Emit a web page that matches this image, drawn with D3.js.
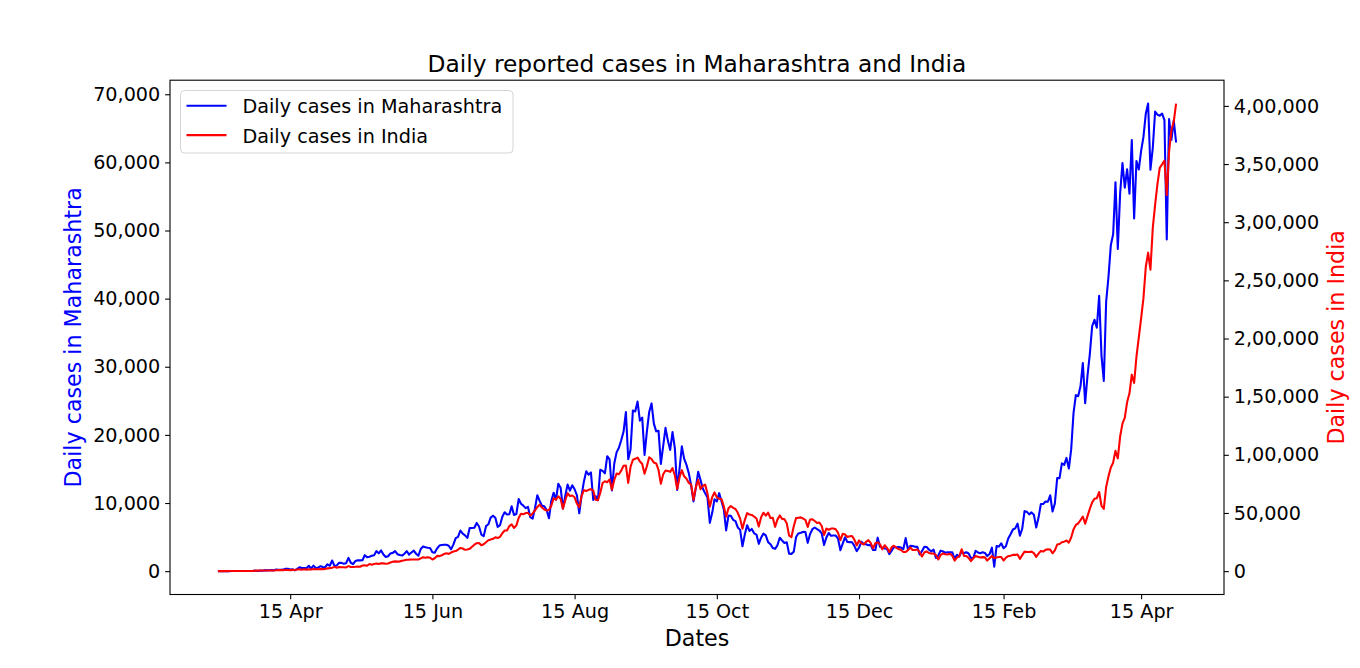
<!DOCTYPE html>
<html>
<head>
<meta charset="utf-8">
<script src="https://cdnjs.cloudflare.com/ajax/libs/d3/7.8.5/d3.min.js"></script>
<style>
    body { margin: 0; background: #fff; }
    svg text { font-family: "DejaVu Sans", sans-serif; fill: #000; }
</style>
</head>
<body>

<svg id="chart"></svg>

<script>

// first day of each block of daily values below
let blockStarts = ["2020-03-15", "2020-04-01", "2020-05-01", "2020-06-01", "2020-07-01",
                   "2020-08-01", "2020-09-01", "2020-10-01", "2020-11-01", "2020-12-01",
                   "2021-01-01", "2021-02-01", "2021-03-01", "2021-04-01"];

let mhCases = [
    [6, 5, 3, 7, 4, 3, 12, 10, 23, 10, 14, 17, 23, 27, 20, 17, 82],
    [33, 81, 67, 145, 113, 120, 150, 117, 229, 210, 187, 221, 352, 350, 232, 286, 118, 328, 552, 466, 472, 431, 778, 394, 811, 440, 522, 729, 597, 583],
    [1008, 790, 1567, 771, 841, 1233, 1216, 1089, 1165, 1943, 1230, 1026, 1495, 1602, 1576, 1606, 2347, 2033, 2127, 2250, 2345, 2940, 2608, 3041, 2436, 2091, 2190, 2598, 2682, 2940, 2487],
    [2361, 2287, 2560, 2933, 2436, 2739, 3007, 2553, 2259, 3254, 3607, 3493, 3427, 3390, 2786, 2701, 3307, 3752, 3827, 3874, 3870, 3721, 3214, 3890, 4841, 5024, 5968, 5493, 5257, 4878],
    [6330, 6328, 6364, 7074, 6555, 5368, 5134, 6603, 6875, 7862, 8139, 7827, 6497, 6741, 7975, 8641, 8308, 8348, 9518, 8240, 8369, 10576, 9895, 9615, 9251, 9431, 7924, 7717, 9211, 11147, 10320],
    [9601, 9509, 8968, 7760, 10309, 11514, 10483, 12822, 12248, 9181, 11088, 12712, 11813, 12608, 12020, 11111, 8493, 11119, 13165, 14647, 14161, 14492, 10441, 11015, 10425, 14888, 14718, 14361, 16867, 16408, 11852],
    [15765, 17433, 18105, 19218, 20489, 23350, 16429, 17851, 23577, 23446, 24886, 22084, 22543, 17066, 20482, 23365, 24619, 21656, 20519, 20598, 15738, 18390, 21029, 19164, 17794, 20419, 18056, 11921, 14976, 18317],
    [16476, 15591, 14348, 12548, 10244, 12258, 14578, 13395, 12134, 11416, 10792, 7089, 8522, 10552, 10226, 11447, 10259, 9060, 5984, 8151, 8142, 7539, 7347, 6417, 6059, 3645, 5363, 6738, 5902, 6190, 5548],
    [5369, 4009, 4909, 5505, 5246, 4258, 3959, 3408, 3277, 3791, 4907, 4496, 4132, 4237, 2544, 2535, 2840, 5011, 5535, 5640, 5760, 5753, 4153, 5439, 6159, 6406, 6185, 5965, 5544, 3837],
    [4930, 5600, 5182, 5229, 5229, 4757, 3075, 4026, 4981, 4268, 4259, 4235, 3717, 2949, 3442, 4304, 3994, 3940, 3811, 3854, 3106, 3106, 4913, 3580, 3431, 3314, 3282, 2498, 3018, 3537, 3509],
    [3524, 3463, 3218, 4850, 3160, 3729, 3693, 3581, 3558, 2438, 2936, 3579, 3556, 3145, 2910, 3145, 1924, 2294, 3015, 2886, 2697, 2779, 2752, 2752, 1842, 2405, 2171, 2889, 2630, 2771, 2585],
    [1948, 1927, 2992, 2736, 2628, 2768, 2673, 2216, 2515, 3451, 652, 3670, 3611, 4092, 3365, 3663, 4787, 5427, 6112, 6281, 6971, 5210, 6218, 8807, 8702, 8333, 8623, 8293],
    [6397, 7863, 9855, 9855, 10216, 10187, 11141, 8744, 9927, 13659, 13659, 15817, 15602, 16620, 15051, 17864, 23179, 25833, 25681, 27126, 30535, 24645, 28699, 31855, 35952, 36902, 35726, 40414, 31643, 27918, 39544],
    [43183, 47827, 49447, 57074, 47288, 55469, 59907, 56286, 58993, 55411, 63294, 51751, 60212, 58952, 61695, 63729, 67123, 68631, 58924, 62097, 67468, 67013, 66836, 67160, 66191, 48700, 66358, 63309, 66159, 62919]
];

let indiaCases = [
    [13, 6, 11, 10, 23, 58, 78, 69, 94, 74, 86, 73, 153, 136, 120, 187, 309],
    [424, 486, 560, 579, 609, 484, 573, 565, 813, 871, 854, 758, 1243, 1031, 886, 1061, 922, 1371, 1580, 1239, 1537, 1292, 1667, 1408, 1835, 1607, 1568, 1902, 1705, 1801],
    [2396, 2564, 2952, 3656, 2971, 3602, 3344, 3339, 3175, 4311, 3592, 3562, 3726, 3991, 3808, 4794, 5050, 4630, 6147, 5553, 6198, 6629, 6154, 6767, 6654, 6387, 6566, 7467, 8105, 8380, 8171],
    [8392, 8909, 9304, 9851, 9887, 9971, 9983, 9987, 9985, 10956, 11929, 11458, 12031, 11502, 10032, 11086, 13109, 12881, 13586, 14721, 15403, 14821, 15968, 16922, 17296, 18552, 19906, 19459, 18339, 18641],
    [19160, 20903, 22721, 24018, 24248, 22252, 23135, 24879, 26506, 27114, 27755, 29108, 28498, 29429, 32607, 34956, 34884, 38697, 40243, 37148, 39170, 45720, 49310, 48916, 49931, 50075, 47703, 49632, 52123, 55079, 57117],
    [54735, 52972, 52050, 52509, 56282, 62538, 61537, 64399, 62064, 53601, 60963, 66999, 64553, 65002, 63490, 57981, 55079, 64531, 69652, 68898, 69878, 70488, 69239, 61408, 60975, 67151, 75760, 77266, 76472, 78761, 69921],
    [78357, 83883, 83341, 86432, 90632, 90802, 75809, 89706, 95735, 96551, 97570, 94372, 92071, 83809, 90123, 97894, 96424, 93337, 92605, 86961, 75083, 83347, 86508, 86052, 85362, 88600, 82170, 70589, 80472, 86821],
    [81484, 79476, 75829, 74442, 61267, 72049, 78524, 70496, 73272, 74383, 66732, 55342, 63509, 67708, 63371, 62212, 61871, 55722, 46791, 54044, 56013, 54350, 53370, 50129, 45149, 36469, 43893, 49881, 48648, 48268, 46963],
    [45231, 38310, 46253, 50210, 47638, 50357, 45674, 45903, 38073, 44281, 47905, 44879, 44684, 41100, 30548, 29164, 38617, 45576, 45882, 46232, 45209, 44059, 37975, 44376, 44489, 43082, 41322, 41810, 38772, 31118],
    [36604, 35551, 36595, 36652, 36011, 32981, 26567, 32080, 31522, 29398, 30006, 30254, 27071, 22065, 26382, 24010, 22890, 25152, 26624, 24337, 19556, 23950, 24712, 23068, 18732, 22273, 20021, 16432, 20550, 21822, 20035],
    [19079, 18177, 16504, 16375, 18088, 20346, 18139, 18222, 18645, 16311, 12584, 15968, 16946, 15590, 15158, 15144, 13788, 10064, 13823, 15223, 14545, 14256, 14849, 13203, 9102, 11666, 12689, 18855, 13083, 13052, 11427],
    [8635, 11039, 12899, 12408, 11713, 12059, 11831, 9110, 11067, 12923, 11195, 11710, 12143, 12194, 9121, 11610, 12881, 13193, 13993, 13993, 14264, 10584, 13742, 16738, 16577, 16488, 16752, 15510],
    [12286, 14989, 17407, 16838, 18327, 18711, 18599, 15388, 17921, 22854, 23285, 24882, 25320, 26291, 24492, 28903, 35871, 39726, 40953, 43846, 46951, 40715, 47262, 53476, 59118, 62258, 62714, 68020, 56211, 53480, 72330],
    [81466, 89129, 93249, 103558, 96982, 115736, 126789, 131968, 145384, 152879, 168912, 161736, 184372, 200739, 217353, 234692, 261500, 273810, 259170, 295041, 314835, 332730, 346786, 349691, 352991, 323144, 360960, 379257, 386452, 401993]
];

let leftTicks = [0, 10000, 20000, 30000, 40000, 50000, 60000, 70000];
let rightTicks = [0, 50000, 100000, 150000, 200000, 250000, 300000, 350000, 400000];
let dateTicks = ["2020-04-15", "2020-06-15", "2020-08-15", "2020-10-15", "2020-12-15", "2021-02-15", "2021-04-15"];

let titleText = "Daily reported cases in Maharashtra and India";
let xLabel = "Dates";
let leftLabel = "Daily cases in Maharashtra";
let rightLabel = "Daily cases in India";
let legendLabels = ["Daily cases in Maharashtra", "Daily cases in India"];


let width = 1360;
let height = 668;
let plotLeft = 170, plotRight = 1224, plotTop = 80.2, plotBottom = 594.5;
let tickLen = 4.86;

let svg = d3.select("#chart")
            .attr("width", width)
            .attr("height", height);

let parseDay = d3.utcParse("%Y-%m-%d");

function toSeries(blocks) {
    let out = [];
    blocks.forEach((vals, i) => {
        let start = parseDay(blockStarts[i]);
        vals.forEach((v, j) => out.push({ date: d3.utcDay.offset(start, j), value: v }));
    });
    return out;
}

let mh = toSeries(mhCases);
let india = toSeries(indiaCases);

// matplotlib style 5% margins
function padded(ext) {
    let span = ext[1] - ext[0];
    return [ext[0] - span * 0.05, ext[1] + span * 0.05];
}

let dateExt = d3.extent(mh, d => d.date).map(d => +d);
let x = d3.scaleUtc()
          .domain(padded(dateExt).map(t => new Date(t)))
          .range([plotLeft, plotRight]);

let yLeft = d3.scaleLinear()
              .domain(padded(d3.extent(mh, d => d.value)))
              .range([plotBottom, plotTop]);

let yRight = d3.scaleLinear()
               .domain(padded(d3.extent(india, d => d.value)))
               .range([plotBottom, plotTop]);

// 1,00,000 style grouping
function indianFormat(v) {
    let s = String(Math.round(v));
    if (s.length <= 3) return s;
    let last3 = s.slice(-3);
    let rest = s.slice(0, -3).replace(/\B(?=(\d{2})+(?!\d))/g, ",");
    return rest + "," + last3;
}

function styleAxis(g) {
    g.attr("font-family", null).attr("font-size", null);
    g.select(".domain").remove();
    g.selectAll(".tick line").attr("stroke", "#000").attr("stroke-width", 1.1);
    g.selectAll(".tick text").style("font-size", "19.2px").attr("fill", "#000");
}

svg.append("g")
   .attr("transform", `translate(0, ${plotBottom})`)
   .call(d3.axisBottom(x)
           .tickValues(dateTicks.map(parseDay))
           .tickFormat(d3.utcFormat("%d %b"))
           .tickSize(tickLen)
           .tickPadding(4.86))
   .call(styleAxis);

svg.append("g")
   .attr("transform", `translate(${plotLeft}, 0)`)
   .call(d3.axisLeft(yLeft)
           .tickValues(leftTicks)
           .tickFormat(d3.format(",d"))
           .tickSize(tickLen)
           .tickPadding(4.86))
   .call(styleAxis);

svg.append("g")
   .attr("transform", `translate(${plotRight}, 0)`)
   .call(d3.axisRight(yRight)
           .tickValues(rightTicks)
           .tickFormat(indianFormat)
           .tickSize(tickLen)
           .tickPadding(4.86))
   .call(styleAxis);

let lineMh = d3.line()
               .x(d => x(d.date))
               .y(d => yLeft(d.value));

let lineIndia = d3.line()
                  .x(d => x(d.date))
                  .y(d => yRight(d.value));

svg.append("path")
   .datum(mh)
   .attr("d", lineMh)
   .attr("fill", "none")
   .attr("stroke", "blue")
   .attr("stroke-width", 2.08)
   .attr("stroke-linejoin", "round");

svg.append("path")
   .datum(india)
   .attr("d", lineIndia)
   .attr("fill", "none")
   .attr("stroke", "red")
   .attr("stroke-width", 2.08)
   .attr("stroke-linejoin", "round");

// frame
svg.append("rect")
   .attr("x", plotLeft)
   .attr("y", plotTop)
   .attr("width", plotRight - plotLeft)
   .attr("height", plotBottom - plotTop)
   .attr("fill", "none")
   .attr("stroke", "#000")
   .attr("stroke-width", 1.1);

// texts
svg.append("text")
   .attr("x", (plotLeft + plotRight) / 2)
   .attr("y", 72.3)
   .attr("text-anchor", "middle")
   .style("font-size", "23.3px")
   .text(titleText);

svg.append("text")
   .attr("x", (plotLeft + plotRight) / 2)
   .attr("y", 645.5)
   .attr("text-anchor", "middle")
   .style("font-size", "22.2px")
   .text(xLabel);

svg.append("text")
   .attr("transform", `translate(81, ${(plotTop + plotBottom) / 2}) rotate(-90)`)
   .attr("text-anchor", "middle")
   .style("fill", "blue")
   .style("font-size", "22.2px")
   .text(leftLabel);

svg.append("text")
   .attr("transform", `translate(1344, ${(plotTop + plotBottom) / 2}) rotate(-90)`)
   .attr("text-anchor", "middle")
   .style("fill", "red")
   .style("font-size", "22.2px")
   .text(rightLabel);

// legend
let legendColors = ["blue", "red"];
let legend = svg.append("g");

legend.append("rect")
      .attr("x", 180.5)
      .attr("y", 90.5)
      .attr("width", 332.5)
      .attr("height", 62.5)
      .attr("rx", 4)
      .attr("fill", "#fff")
      .attr("stroke", "#d5d5d5")
      .attr("stroke-width", 1);

let item = legend.selectAll("g.item")
                 .data(legendLabels)
                 .enter()
                 .append("g")
                 .attr("class", "item")
                 .attr("transform", (d, i) => `translate(0, ${105.8 + i * 29.3})`);

item.append("line")
    .attr("x1", 186.5)
    .attr("x2", 226.5)
    .attr("stroke", (d, i) => legendColors[i])
    .attr("stroke-width", 2.08);

item.append("text")
    .attr("x", 242.5)
    .attr("y", 7.4)
    .style("font-size", "19.2px")
    .text(d => d);

</script>
</body>
</html>
